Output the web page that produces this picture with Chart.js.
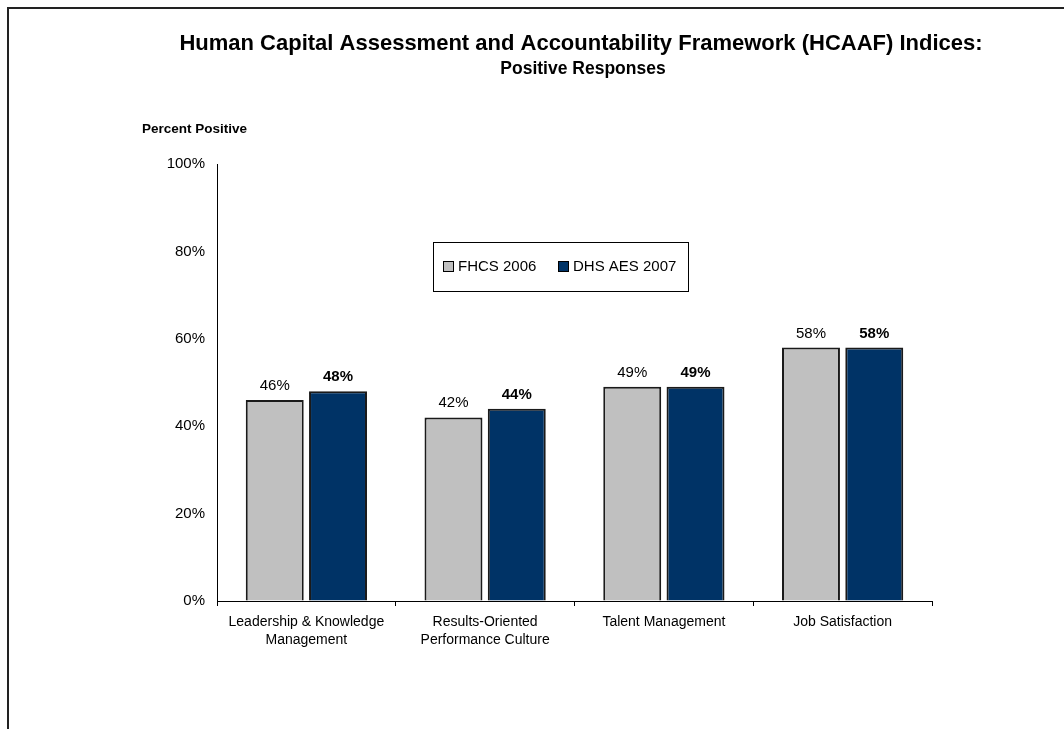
<!DOCTYPE html>
<html>
<head>
<meta charset="utf-8">
<script src="https://cdn.jsdelivr.net/npm/chart.js@4.4.1/dist/chart.umd.min.js"></script>
<style>
  html, body { margin: 0; padding: 0; background: #ffffff; }
  #wrap { position: relative; width: 1064px; height: 729px; }
  canvas { display: block; }
</style>
</head>
<body>
<div id="wrap"><canvas id="c" width="1064" height="729"></canvas></div>
<script>
// HCAAF index categories (x-axis labels, multi-line)
const categories = [
  ["Leadership & Knowledge", "Management"],
  ["Results-Oriented", "Performance Culture"],
  ["Talent Management"],
  ["Job Satisfaction"]
];
// Survey series (percent positive)
const seriesNames = ["FHCS 2006", "DHS AES 2007"];
const fhcs2006 = [46, 42, 49, 58];
const dhsAes2007 = [48, 44, 49, 58];
const yTicks = [0, 20, 40, 60, 80, 100];

const titleText = "Human Capital Assessment and Accountability Framework (HCAAF) Indices:";
const subtitleText = "Positive Responses";
const yAxisTitle = "Percent Positive";

const FONT = "'Liberation Sans', Arial, Helvetica, sans-serif";
const GRAY = "#C0C0C0";
const NAVY = "#003366";

// Outer frame, titles, value labels and legend box
const decorations = {
  id: "decorations",
  afterDraw(chart) {
    const ctx = chart.ctx;
    ctx.save();

    // frame lines (top and left)
    ctx.strokeStyle = "#222222";
    ctx.lineWidth = 2;
    ctx.beginPath();
    ctx.moveTo(8, 729);
    ctx.lineTo(8, 8);
    ctx.lineTo(1064, 8);
    ctx.stroke();

    // titles
    ctx.fillStyle = "#000000";
    ctx.textAlign = "center";
    ctx.textBaseline = "alphabetic";
    ctx.font = "bold 22px " + FONT;
    ctx.fillText(titleText, 581, 50);
    ctx.font = "bold 17.5px " + FONT;
    ctx.fillText(subtitleText, 583, 74);

    // y-axis heading
    ctx.textAlign = "left";
    ctx.font = "bold 13.5px " + FONT;
    ctx.fillText(yAxisTitle, 142, 133);

    // value labels above bars
    chart.data.datasets.forEach((ds, di) => {
      const meta = chart.getDatasetMeta(di);
      ctx.font = (di === 1 ? "bold " : "") + "15px " + FONT;
      ctx.textAlign = "center";
      meta.data.forEach((bar, i) => {
        ctx.fillText(ds.data[i] + "%", bar.x, bar.y - 10);
      });
    });

    // legend box
    const lx = 433, ly = 242, lw = 255, lh = 49;
    ctx.fillStyle = "#ffffff";
    ctx.fillRect(lx, ly, lw, lh);
    ctx.strokeStyle = "#000000";
    ctx.lineWidth = 1;
    ctx.strokeRect(lx + 0.5, ly + 0.5, lw, lh);
    const items = [
      { x: 443, label: chart.data.datasets[0].label, color: chart.data.datasets[0].backgroundColor },
      { x: 558, label: chart.data.datasets[1].label, color: chart.data.datasets[1].backgroundColor }
    ];
    ctx.font = "15px " + FONT;
    ctx.textAlign = "left";
    ctx.textBaseline = "middle";
    items.forEach(it => {
      ctx.fillStyle = it.color;
      ctx.fillRect(it.x, 261, 11, 11);
      ctx.strokeStyle = "#000000";
      ctx.strokeRect(it.x + 0.5, 261.5, 10, 10);
      ctx.fillStyle = "#000000";
      ctx.fillText(it.label, it.x + 15, 267);
    });

    ctx.restore();
  }
};

new Chart(document.getElementById("c"), {
  type: "bar",
  data: {
    labels: categories,
    datasets: [
      {
        label: seriesNames[0],
        data: fhcs2006,
        backgroundColor: GRAY,
        borderColor: "#1a1a1a",
        borderWidth: 2,
        categoryPercentage: 0.708,
        barPercentage: 0.916
      },
      {
        label: seriesNames[1],
        data: dhsAes2007,
        backgroundColor: NAVY,
        borderColor: "#1a1a1a",
        borderWidth: 2,
        categoryPercentage: 0.708,
        barPercentage: 0.916
      }
    ]
  },
  options: {
    responsive: false,
    animation: false,
    devicePixelRatio: 1,
    layout: { padding: { left: 0, top: 164, right: 132, bottom: 0 } },
    plugins: {
      legend: { display: false },
      title: { display: false },
      tooltip: { enabled: false }
    },
    scales: {
      x: {
        offset: true,
        grid: {
          offset: true,
          drawOnChartArea: false,
          drawTicks: true,
          tickLength: 5,
          color: "#000000"
        },
        border: { display: true, color: "#000000", width: 1 },
        ticks: {
          color: "#000000",
          font: { family: FONT, size: 14, lineHeight: 1.3 },
          padding: 7,
          maxRotation: 0,
          autoSkip: false
        },
        afterFit(scale) { scale.height = 128; }
      },
      y: {
        min: 0,
        max: 100,
        afterBuildTicks(scale) { scale.ticks = yTicks.map(v => ({ value: v })); },
        grid: { display: true, drawOnChartArea: false, drawTicks: false },
        border: { display: true, color: "#000000", width: 1 },
        ticks: {
          color: "#000000",
          font: { family: FONT, size: 15 },
          padding: 12,
          callback: v => v + "%"
        },
        afterFit(scale) { scale.width = 217; }
      }
    }
  },
  plugins: [decorations]
});
</script>
</body>
</html>
